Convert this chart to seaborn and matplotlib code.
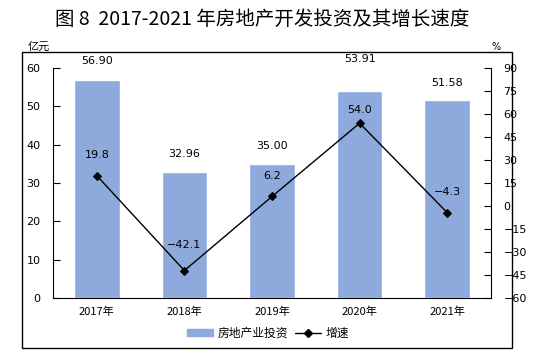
import matplotlib
matplotlib.use("Agg")
import matplotlib.pyplot as plt
import seaborn as sns
import pandas as pd
import numpy as np
from matplotlib.patches import Rectangle
from matplotlib.lines import Line2D

years = ["2017年", "2018年", "2019年", "2020年", "2021年"]
investment = [56.90, 32.96, 35.00, 53.91, 51.58]
growth = [19.8, -42.1, 6.2, 54.0, -4.3]
left_ticks = [0, 10, 20, 30, 40, 50, 60]
right_ticks = [-60, -45, -30, -15, 0, 15, 30, 45, 60, 75, 90]

sns.set_theme(style="white")
plt.rcParams['font.family'] = ['Noto Sans CJK SC', 'DejaVu Sans']
plt.rcParams['text.color'] = 'black'
plt.rcParams['xtick.color'] = 'black'
plt.rcParams['ytick.color'] = 'black'
plt.rcParams['xtick.labelcolor'] = 'black'
plt.rcParams['ytick.labelcolor'] = 'black'

W, H = 539, 362
fig = plt.figure(figsize=(W / 100, H / 100), dpi=100)

def fx(px):
    return px / W

def fy(py):
    return 1 - py / H

# outer frame
fig.patches.append(Rectangle((fx(22), fy(348)), fx(512) - fx(22), fy(52) - fy(348),
                             transform=fig.transFigure, fill=False, edgecolor='black', lw=1.0))

ax = fig.add_axes([fx(53), fy(298), fx(491) - fx(53), fy(68) - fy(298)])
df = pd.DataFrame({"year": years, "investment": investment})
sns.barplot(data=df, x="year", y="investment", color="#8EA9DB", saturation=1, width=0.52, ax=ax)
ax.set_xlim(-0.5, 4.5)
ax.set_ylim(0, 60)
ax.set_yticks(left_ticks)
ax.set_yticklabels([str(t) for t in left_ticks], fontsize=8, family='DejaVu Sans')
ax.set_xlabel("")
ax.set_ylabel("")
ax.tick_params(axis='x', length=0, labelsize=8, pad=6)
ax.tick_params(axis='y', length=5, width=0.8, direction='in', left=True, pad=9)
for lab in ax.get_xticklabels():
    lab.set_family(['Noto Sans CJK SC', 'DejaVu Sans'])
for s in ['top', 'right']:
    ax.spines[s].set_visible(False)
for s in ['left', 'bottom']:
    ax.spines[s].set_color('black')
    ax.spines[s].set_linewidth(0.8)

bar_offsets = [10, 9, 9, 20, 9]
for i, v in enumerate(investment):
    ax.annotate(f"{v:.2f}", (i, v), xytext=(0, bar_offsets[i]), textcoords='offset points',
                ha='center', va='bottom', fontsize=8, family='DejaVu Sans')

ax2 = ax.twinx()
ldf = pd.DataFrame({"x": np.arange(len(years)), "growth": growth})
sns.lineplot(data=ldf, x="x", y="growth", color='black', lw=1.0, marker='D', markersize=4.5,
             markeredgecolor='black', ax=ax2)
ax2.set_ylim(-60, 90)
ax2.set_yticks(right_ticks)
ax2.set_yticklabels([str(t).replace('-', '−') for t in right_ticks], fontsize=8, family='DejaVu Sans')
ax2.set_xlim(-0.5, 4.5)
ax2.set_xlabel("")
ax2.set_ylabel("")
ax2.tick_params(axis='y', length=5, width=0.8, direction='in', right=True, pad=9)
for s in ['top', 'left', 'bottom']:
    ax2.spines[s].set_visible(False)
ax2.spines['right'].set_color('black')
ax2.spines['right'].set_linewidth(0.8)

line_offsets = [11, 15, 11, 6, 11]
for i, v in enumerate(growth):
    txt = f"{v:.1f}".replace('-', '−')
    ax2.annotate(txt, (i, v), xytext=(0, line_offsets[i]), textcoords='offset points',
                 ha='center', va='bottom', fontsize=8, family='DejaVu Sans')

# title and unit labels
fig.text(fx(262), fy(19), "图 8  2017-2021 年房地产开发投资及其增长速度", ha='center', va='center',
         fontsize=14, fontweight='normal', family=['Noto Sans CJK SC', 'DejaVu Sans'])
fig.text(fx(28), fy(47), "亿元", ha='left', va='center', fontsize=8,
         family=['Noto Sans CJK SC', 'DejaVu Sans'])
fig.text(fx(491), fy(47), "%", ha='left', va='center', fontsize=7, family='DejaVu Sans')

# legend
handles = [Rectangle((0, 0), 1, 1, color="#8EA9DB"),
           Line2D([0], [0], color='black', lw=1.0, marker='D', markersize=4)]
fig.legend(handles, ["房地产业投资", "增速"], loc='center', bbox_to_anchor=(fx(268), fy(333)),
           ncol=2, frameon=False, handlelength=2.2, handleheight=0.6,
           columnspacing=0.6, handletextpad=0.4, prop={'family': ['Noto Sans CJK SC', 'DejaVu Sans'], 'size': 8.5})

fig.savefig("out.png", dpi=100)
